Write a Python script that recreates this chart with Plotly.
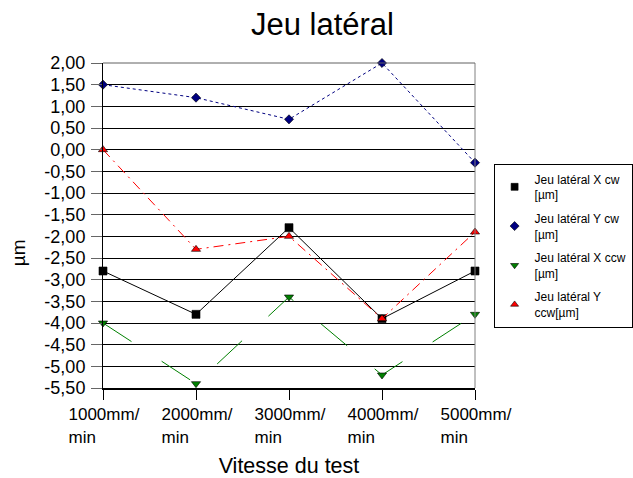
import plotly.graph_objects as go

categories = ["1000mm/<br>min", "2000mm/<br>min", "3000mm/<br>min", "4000mm/<br>min", "5000mm/<br>min"]
x_cw = [-2.8, -3.8, -1.8, -3.9, -2.8]
y_cw = [1.5, 1.2, 0.7, 2.0, -0.3]
x_ccw = [-4.0, -5.4, -3.4, -5.2, -3.8]
y_ccw = [0.0, -2.3, -2.0, -3.9, -1.9]
y_ticks = [2.0 - 0.5 * i for i in range(16)]
y_ticktext = [("%.2f" % v).replace(".", ",") for v in y_ticks]

names = ["Jeu latéral X cw<br>[µm]", "Jeu latéral Y cw<br>[µm]", "Jeu latéral X ccw<br>[µm]", "Jeu latéral Y<br>ccw[µm]"]
series = [x_cw, y_cw, x_ccw, y_ccw]
colors = ["#000000", "#000080", "#008000", "#FF0000"]
symbols = ["square", "diamond", "triangle-down", "triangle-up"]
dashes = ["solid", "3px,3px", "34px,36px", "10px,5px,2px,5px"]
msizes = [8, 7, 8, 8]

FONT = "Liberation Sans, Arial, sans-serif"
xs = list(range(len(categories)))
fig = go.Figure()
for s, c, sym, d, ms in zip(series, colors, symbols, dashes, msizes):
    fig.add_trace(go.Scatter(
        x=xs, y=s, mode="lines+markers", showlegend=False, cliponaxis=False,
        line=dict(color=c, width=1, dash=d),
        marker=dict(symbol=sym, size=ms, color=c, line=dict(color="#000000", width=0.6)),
    ))
for i, (n, c, sym) in enumerate(zip(names, colors, symbols)):
    fig.add_trace(go.Scatter(
        x=[None], y=[None], mode="markers", name=n, legendgroup="g%d" % i,
        marker=dict(symbol=sym, size=7, color=c, line=dict(color="#000000", width=0.6)),
    ))

fig.update_layout(
    width=633, height=478,
    margin=dict(l=103, r=158, t=63, b=90, autoexpand=False),
    paper_bgcolor="white", plot_bgcolor="white",
    font=dict(family=FONT, color="black", size=17),
    title=dict(text="Jeu latéral", x=0.59, xanchor="center", xref="paper",
               y=0.95, yanchor="middle", font=dict(size=31)),
    xaxis=dict(
        tickmode="array", tickvals=xs, ticktext=categories, range=[0, 4],
        showgrid=False, zeroline=False, showline=True, linecolor="black", linewidth=2,
        ticks="outside", ticklen=10, tickcolor="black",
        ticklabelposition="outside right", ticklabelshift=-36, ticklabelstandoff=10,
        automargin=False,
        title=dict(text="Vitesse du test", font=dict(size=21.5), standoff=15),
    ),
    yaxis=dict(
        tickmode="array", tickvals=y_ticks, ticktext=y_ticktext, range=[-5.5, 2.0],
        showgrid=True, gridcolor="black", gridwidth=1, zeroline=False,
        showline=True, linecolor="black", linewidth=1,
        ticks="outside", ticklen=11, tickcolor="#666666", ticklabelstandoff=2,
        tickfont=dict(size=18), automargin=False,
    ),
    legend=dict(
        x=1.05, y=0.69, xanchor="left", yanchor="top",
        bordercolor="black", borderwidth=1, bgcolor="white",
        font=dict(size=12), tracegroupgap=5, itemwidth=30,
    ),
    showlegend=True,
)
fig.add_annotation(text="µm", xref="paper", yref="paper", x=-0.228, y=0.415,
                   textangle=-90, showarrow=False, font=dict(size=19),
                   xanchor="center", yanchor="middle")
fig.add_shape(type="line", xref="paper", yref="paper", x0=1, x1=1, y0=0, y1=1,
              line=dict(color="#808080", width=1))
fig.add_shape(type="line", xref="paper", yref="paper", x0=0, x1=1, y0=1, y1=1,
              line=dict(color="#606060", width=1))

fig.write_html("out.html")
